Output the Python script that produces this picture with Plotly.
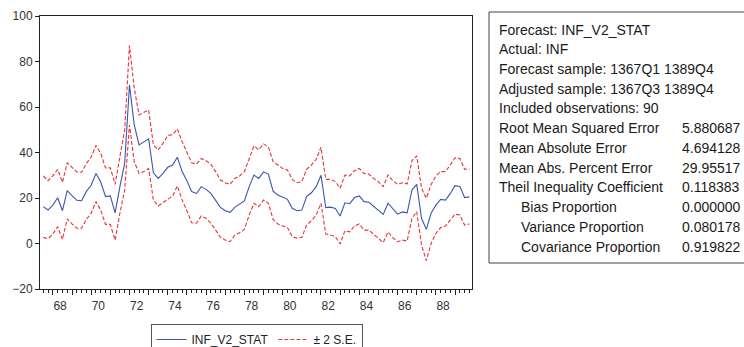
import plotly.graph_objects as go

# ---------------- data ----------------
start_year = 1367
start_quarter = 3
n_obs = 90

forecast = [16.2, 14.7, 16.9, 20.1, 14.4, 23.2, 21.0, 19.0, 18.8, 22.9,
            25.6, 30.8, 27.0, 20.6, 20.9, 13.5, 25.0, 35.2, 69.7, 52.1,
            43.3, 44.7, 46.0, 31.1, 28.6, 30.8, 33.5, 34.5, 37.9, 31.6,
            27.6, 22.8, 22.0, 25.0, 23.8, 22.0, 19.1, 15.9, 14.4, 13.7,
            15.9, 17.4, 18.7, 25.0, 30.1, 28.6, 31.5, 30.5, 23.0, 21.3,
            20.3, 19.4, 15.5, 14.4, 14.7, 20.6, 22.3, 25.0, 30.0, 15.8,
            16.0, 15.4, 12.1, 17.9, 17.5, 20.2, 20.9, 18.4, 18.1, 16.2,
            14.4, 12.8, 17.7, 15.2, 12.9, 13.9, 13.5, 23.5, 26.0, 11.1,
            6.2, 13.3, 16.9, 19.4, 19.1, 21.9, 25.4, 25.1, 20.2, 20.5]

upper = [29.7, 27.6, 29.8, 32.6, 26.9, 35.5, 33.5, 31.4, 31.3, 35.2,
         38.0, 43.1, 39.6, 33.2, 33.3, 26.0, 38.2, 49.9, 87.0, 68.2,
         56.5, 57.7, 58.7, 43.3, 41.1, 44.0, 47.5, 47.8, 50.4, 44.7,
         40.4, 35.5, 34.9, 37.4, 36.4, 34.9, 31.6, 27.9, 26.7, 26.0,
         28.6, 29.7, 31.6, 37.4, 42.9, 41.2, 43.8, 42.5, 36.0, 34.5,
         33.0, 32.3, 28.2, 26.7, 27.2, 32.6, 34.5, 37.0, 42.3, 28.2,
         28.2, 27.2, 24.3, 30.1, 29.7, 32.0, 33.0, 30.8, 30.5, 28.6,
         27.2, 25.0, 30.1, 27.6, 26.0, 26.7, 26.2, 36.4, 38.5, 24.3,
         19.9, 25.9, 29.7, 31.6, 31.6, 34.5, 37.7, 37.4, 32.6, 32.9]

lower = [2.7, 2.1, 4.2, 7.4, 1.8, 10.8, 8.6, 6.7, 6.7, 10.6,
         13.3, 18.4, 14.7, 8.4, 8.4, 1.5, 13.3, 23.5, 52.1, 36.0,
         30.8, 31.6, 33.0, 19.1, 16.5, 18.0, 19.4, 20.9, 25.3, 19.1,
         14.4, 9.1, 8.9, 12.1, 11.1, 8.9, 5.9, 2.7, 1.5, 0.8,
         3.7, 4.7, 6.2, 12.5, 17.7, 16.2, 19.1, 17.7, 10.6, 8.6,
         7.7, 7.0, 3.0, 2.3, 2.7, 8.1, 10.0, 12.5, 17.7, 4.2,
         3.7, 3.0, -0.2, 5.6, 5.1, 7.7, 8.6, 5.9, 5.9, 4.0,
         2.3, 0.4, 5.1, 2.6, 0.8, 1.5, 1.1, 11.1, 14.0, -0.7,
         -7.5, 0.0, 4.4, 7.0, 7.7, 10.3, 12.9, 12.5, 8.1, 8.6]

year_labels = ["68", "70", "72", "74", "76", "78", "80", "82", "84", "86", "88"]
y_ticks = [-20, 0, 20, 40, 60, 80, 100]

header_lines = ["Forecast: INF_V2_STAT",
                "Actual: INF",
                "Forecast sample: 1367Q1 1389Q4",
                "Adjusted sample: 1367Q3 1389Q4",
                "Included observations: 90"]
stat_labels = ["Root Mean Squared Error", "Mean Absolute Error",
               "Mean Abs. Percent Error", "Theil Inequality Coefficient",
               "Bias Proportion", "Variance Proportion", "Covariance Proportion"]
stat_indent = [False, False, False, False, True, True, True]
stat_values = ["5.880687", "4.694128", "29.95517", "0.118383",
               "0.000000", "0.080178", "0.919822"]

# ---------------- periods ----------------
periods = []
yr, qt = start_year, start_quarter
for _ in range(n_obs):
    periods.append((yr, qt))
    qt += 1
    if qt > 4:
        qt = 1
        yr += 1
xs = [(p[0] - 1300) + (p[1] - 1) / 4 for p in periods]
year_starts = sorted({p[0] - 1300 for p in periods if p[1] == 1})
label_pos = [int(l) + 0.375 for l in year_labels]

# ---------------- layout helpers ----------------
W, H = 744, 347
PL, PR, PT, PB = 40, 472, 16, 289


def px_x(px):
    return (px - PL) / (PR - PL)


def px_y(py):
    return (PB - py) / (PB - PT)


FONT = "Liberation Sans, Arial, sans-serif"
BLUE = "#3a56ad"
RED = "#e8333b"

fig = go.Figure()
fig.add_trace(go.Scatter(x=xs, y=forecast, mode="lines", name="INF_V2_STAT",
                         line=dict(color=BLUE, width=1.1)))
fig.add_trace(go.Scatter(x=xs, y=upper, mode="lines", name="\u00b1 2 S.E.",
                         line=dict(color=RED, width=1.1, dash="4px,2px")))
fig.add_trace(go.Scatter(x=xs, y=lower, mode="lines", name="lower", showlegend=False,
                         line=dict(color=RED, width=1.1, dash="4px,2px")))
# invisible trace to realise the label axis
fig.add_trace(go.Scatter(x=[label_pos[0]], y=[None], xaxis="x2", showlegend=False,
                         hoverinfo="skip", mode="lines"))

xr = [67.328, 89.886]
fig.update_layout(
    width=W, height=H,
    margin=dict(l=PL, r=W - PR, t=PT, b=H - PB, pad=0, autoexpand=False),
    paper_bgcolor="white", plot_bgcolor="white",
    font=dict(family=FONT, size=12, color="#333"),
    xaxis=dict(range=xr, showgrid=False, zeroline=False,
               showline=True, linecolor="#222", linewidth=1, mirror=True,
               tickmode="array", tickvals=year_starts, showticklabels=False,
               ticks="outside", ticklen=5, tickcolor="#222", tickwidth=1,
               minor=dict(tickmode="array", tickvals=xs, ticks="outside",
                          ticklen=3, tickcolor="#222", tickwidth=1)),
    xaxis2=dict(range=xr, overlaying="x", anchor="y", side="bottom",
                showgrid=False, zeroline=False, showline=False,
                tickmode="array", tickvals=label_pos, ticktext=year_labels,
                ticks="outside", ticklen=6, tickcolor="rgba(0,0,0,0)",
                tickfont=dict(size=12, color="#333")),
    yaxis=dict(range=[-20, 100], tickmode="array", tickvals=y_ticks,
               showgrid=False, zeroline=False,
               showline=True, linecolor="#222", linewidth=1, mirror=True,
               ticks="outside", ticklen=4, tickcolor="#222",
               tickfont=dict(size=12, color="#333")),
    legend=dict(orientation="h", x=px_x(256.5), xanchor="center",
                y=px_y(324), yanchor="top",
                bordercolor="#555", borderwidth=1, bgcolor="white",
                font=dict(size=12, color="#222"), itemwidth=30,
                traceorder="normal"),
    showlegend=True,
)

# statistics box
fig.add_shape(type="rect", xref="paper", yref="paper",
              x0=px_x(489), x1=px_x(770), y0=px_y(263), y1=px_y(12),
              line=dict(color="#444", width=1), fillcolor="white", layer="below")

line_y0, line_dy = 29.5, 19.73
k = 0
for t in header_lines:
    fig.add_annotation(xref="paper", yref="paper", x=px_x(497), y=px_y(line_y0 + k * line_dy),
                       text=t, showarrow=False, xanchor="left", yanchor="middle",
                       font=dict(size=14, color="#1a1a1a", family=FONT))
    k += 1
for lab, ind, val in zip(stat_labels, stat_indent, stat_values):
    yy = px_y(line_y0 + k * line_dy)
    fig.add_annotation(xref="paper", yref="paper", x=px_x(519 if ind else 497), y=yy,
                       text=lab, showarrow=False, xanchor="left", yanchor="middle",
                       font=dict(size=14, color="#1a1a1a", family=FONT))
    fig.add_annotation(xref="paper", yref="paper", x=px_x(680), y=yy,
                       text=val, showarrow=False, xanchor="left", yanchor="middle",
                       font=dict(size=14, color="#1a1a1a", family=FONT))
    k += 1

fig.write_html("out.html", config={"displayModeBar": False},
               post_script="document.body.style.margin='0';document.body.style.overflow='hidden';")
